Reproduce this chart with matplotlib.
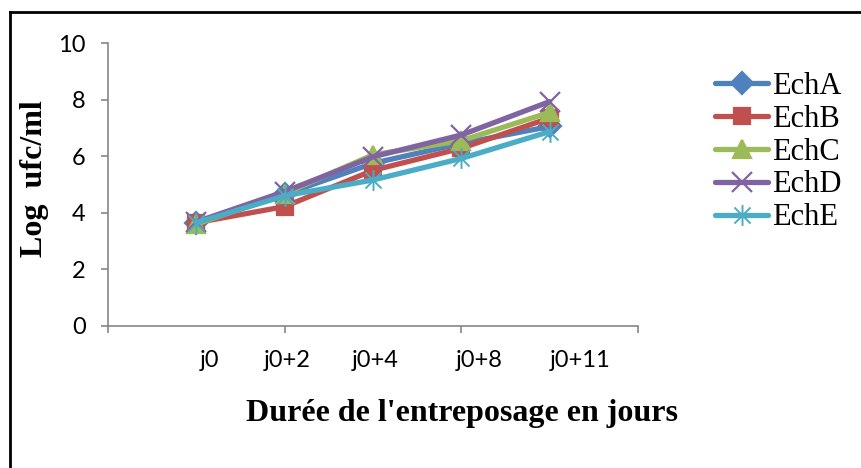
import matplotlib.pyplot as plt
from matplotlib.path import Path
from matplotlib.lines import Line2D

jours = ["j0", "j0+2", "j0+4", "j0+8", "j0+11"]
x = [0, 1, 2, 3, 4]
# position des etiquettes (decalees comme dans Excel)
pos_etiq = [0.15, 1.03, 2.02, 3.2, 4.34]

echA = [3.65, 4.65, 5.75, 6.45, 7.05]
echB = [3.65, 4.22, 5.50, 6.28, 7.35]
echC = [3.60, 4.68, 6.05, 6.55, 7.55]
echD = [3.68, 4.75, 5.98, 6.75, 7.93]
echE = [3.65, 4.60, 5.16, 5.92, 6.87]

# marqueur etoile type Excel
etoile = Path([(-1, -1), (1, 1), (-1, 1), (1, -1), (0, -1.3), (0, 1.3)],
              [Path.MOVETO, Path.LINETO, Path.MOVETO, Path.LINETO, Path.MOVETO, Path.LINETO])

series = [
    ("EchA", echA, "#4F81BD", "D", 11, 1.6),
    ("EchB", echB, "#C0504D", "s", 12, 1.6),
    ("EchC", echC, "#9BBB59", "^", 13, 1.6),
    ("EchD", echD, "#8064A2", "x", 14, 1.6),
    ("EchE", echE, "#4BACC6", etoile, 15, 1.4),
]

fig = plt.figure(figsize=(8.61, 4.68), dpi=100)
ax = fig.add_axes([108 / 861, 1 - 326 / 468, (638 - 108) / 861, (326 - 43) / 468])

for nom, vals, coul, mk, ms, mew in series:
    ax.plot(x, vals, color=coul, lw=3.8, marker=mk, markersize=ms,
            markeredgewidth=mew, markerfacecolor=coul, markeredgecolor=coul,
            label=nom, solid_joinstyle="round", solid_capstyle="round")

gris = "#868686"
ax.set_xlim(-1, 5)
ax.set_ylim(0, 10)
ax.set_yticks([0, 2, 4, 6, 8, 10])
ax.set_xticks([-1, 1, 3, 5])
ax.set_xticklabels([])
ax.set_xticks(pos_etiq, minor=True)
ax.set_xticklabels(jours, minor=True)
ax.tick_params(axis="x", which="major", direction="out", length=5, width=1.2, color=gris)
ax.tick_params(axis="x", which="minor", length=0, pad=17, labelsize=17)
ax.tick_params(axis="y", direction="out", length=5, width=1.2, color=gris, pad=11, labelsize=17)
for lab in ax.get_xticklabels(minor=True) + ax.get_yticklabels():
    lab.set_fontfamily("Lato")
for s in ["top", "right"]:
    ax.spines[s].set_visible(False)
for s in ["left", "bottom"]:
    ax.spines[s].set_color(gris)
    ax.spines[s].set_linewidth(1.2)

fig.text(462 / 861, 1 - 414 / 468, "Durée de l'entreposage en jours", ha="center", va="center",
         fontsize=23, fontweight="bold", fontfamily="Liberation Serif")
fig.text(35 / 861, 1 - 179 / 468, "Log  ufc/ml", ha="center", va="center", rotation=90,
         fontsize=23, fontweight="bold", fontfamily="Liberation Serif")

leg = fig.legend(loc="center left", bbox_to_anchor=(715 / 861, 1 - 152 / 468), frameon=False,
                 prop={"family": "Liberation Serif", "size": 22}, handlelength=1.75,
                 handletextpad=0.12, labelspacing=0.13, borderpad=0, borderaxespad=0)

# cadre (gauche et haut)
fig.add_artist(Line2D([9.5 / 861, 9.5 / 861], [0, 1 - 12 / 468], color="black", lw=2))
fig.add_artist(Line2D([9.5 / 861, 1], [1 - 12 / 468, 1 - 12 / 468], color="black", lw=2))

fig.savefig("out.png", dpi=100)
